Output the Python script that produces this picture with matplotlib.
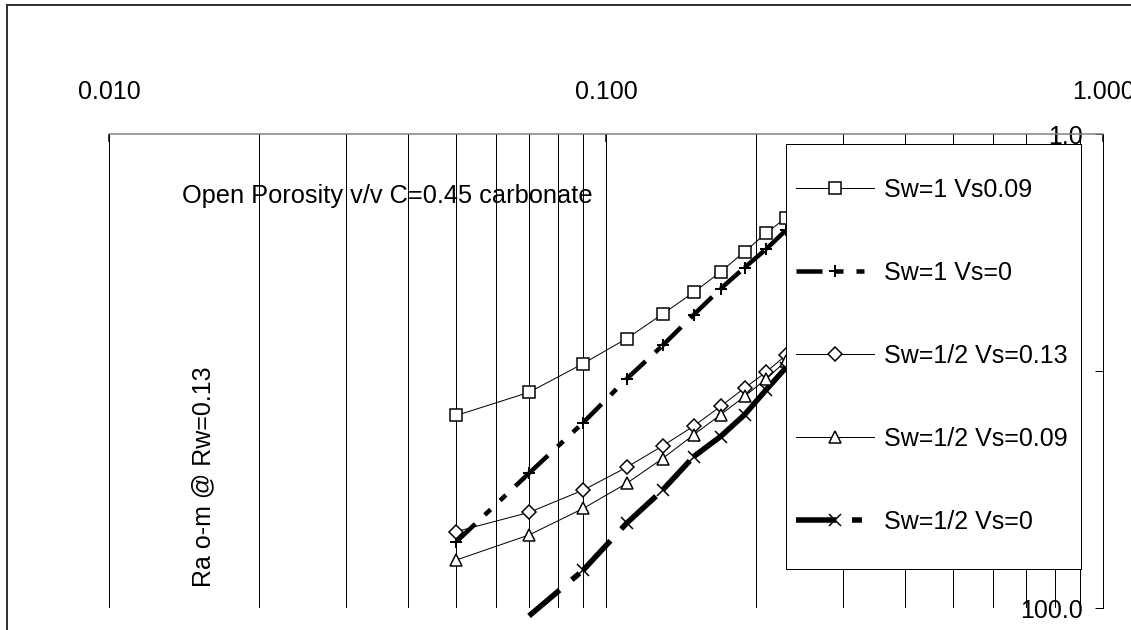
import matplotlib
matplotlib.use("Agg")
import matplotlib.pyplot as plt
from matplotlib.lines import Line2D
from matplotlib.patches import Rectangle
from matplotlib.ticker import FixedLocator, LogLocator, FormatStrFormatter, NullFormatter

plt.rcParams['font.family'] = ['Liberation Sans', 'DejaVu Sans']
plt.rcParams['lines.scale_dashes'] = False

W, H = 1131, 630

porosity = [0.05, 0.07, 0.09, 0.11, 0.13, 0.15, 0.17, 0.19, 0.21, 0.23]
ra_sw1_vs009 = [15.4, 12.3, 9.3, 7.3, 5.75, 4.66, 3.82, 3.14, 2.62, 2.26]
ra_sw1_vs0 = [52.5, 27.0, 16.5, 10.8, 7.8, 5.8, 4.5, 3.66, 3.06, 2.55]
ra_sw05_vs013 = [47.6, 39.5, 31.8, 25.5, 20.7, 17.1, 14.1, 11.8, 10.1, 8.6]
ra_sw05_vs009 = [62.7, 49.2, 38.0, 29.8, 23.4, 18.6, 15.3, 12.8, 10.8, 9.1]
porosity_sw05_vs0 = [0.07, 0.09, 0.11, 0.13, 0.15, 0.17, 0.19, 0.21, 0.23]
ra_sw05_vs0 = [108.0, 69.2, 43.9, 31.8, 23.0, 18.9, 15.3, 12.0, 9.7]

x_ticks = [0.01, 0.1, 1.0]
y_ticks = [1.0, 10.0, 100.0]
labels = ["Sw=1 Vs0.09", "Sw=1 Vs=0", "Sw=1/2 Vs=0.13", "Sw=1/2 Vs=0.09", "Sw=1/2 Vs=0"]

PX = 0.72  # points per pixel at dpi 100
dash_s2 = (26 * PX, 13 * PX, 8 * PX, 13 * PX, 8 * PX, 13 * PX)
dash_s5 = (40 * PX, 16 * PX, 10 * PX, 16 * PX)


def seg_plot(ax, x, y, lw, dashes):
    # excel restarts the dash pattern at every point
    for i in range(len(x) - 1):
        ax.plot(x[i:i + 2], y[i:i + 2], color='black', lw=lw, dashes=dashes,
                dash_capstyle='butt', clip_on=False, zorder=2)


def main():
    fig = plt.figure(figsize=(W / 100, H / 100), dpi=100)
    ax = fig.add_axes([109 / W, 1 - 608 / H, (1103 - 109) / W, (608 - 134) / H])

    ax.set_xscale('log')
    ax.set_yscale('log')
    ax.set_xlim(0.01, 1.0)
    ax.set_ylim(100, 1)

    ms = 12 * PX
    ax.plot(porosity, ra_sw1_vs009, color='black', lw=1 * PX, marker='s', ms=ms,
            mfc='white', mec='black', mew=1.5 * PX, zorder=3)
    seg_plot(ax, porosity, ra_sw1_vs0, 4.5 * PX, dash_s2)
    ax.plot(porosity, ra_sw1_vs0, ls='none', marker='+', ms=ms, mec='black',
            mew=2 * PX, zorder=3)
    ax.plot(porosity, ra_sw05_vs013, color='black', lw=1 * PX, marker='D', ms=9.5 * PX,
            mfc='white', mec='black', mew=1.5 * PX, zorder=3)
    ax.plot(porosity, ra_sw05_vs009, color='black', lw=1 * PX, marker='^', ms=ms,
            mfc='white', mec='black', mew=1.5 * PX, zorder=3)
    seg_plot(ax, porosity_sw05_vs0, ra_sw05_vs0, 5.5 * PX, dash_s5)
    ax.plot(porosity_sw05_vs0, ra_sw05_vs0, ls='none', marker='x', ms=ms, mec='black',
            mew=1.5 * PX, zorder=3)

    # axes
    for s in ['left', 'bottom']:
        ax.spines[s].set_visible(False)
    ax.spines['top'].set_color('#808080')
    ax.spines['top'].set_linewidth(1.5 * PX)
    ax.spines['right'].set_color('black')
    ax.spines['right'].set_linewidth(1 * PX)

    ax.xaxis.set_major_locator(FixedLocator(x_ticks))
    ax.xaxis.set_minor_locator(LogLocator(base=10, subs=range(2, 10)))
    ax.xaxis.set_major_formatter(FormatStrFormatter('%.3f'))
    ax.xaxis.set_minor_formatter(NullFormatter())
    ax.yaxis.set_major_locator(FixedLocator(y_ticks))
    ax.yaxis.set_minor_locator(FixedLocator([]))
    ax.yaxis.set_major_formatter(FormatStrFormatter('%.1f'))

    ax.tick_params(axis='x', which='major', top=True, bottom=False, labeltop=True,
                   labelbottom=False, direction='in', length=8 * PX, width=1.5 * PX,
                   pad=30 * PX, labelsize=18)
    ax.tick_params(axis='x', which='minor', top=False, bottom=False)
    ax.tick_params(axis='y', which='major', right=True, left=False, labelright=True,
                   labelleft=False, direction='in', length=8 * PX, width=1 * PX,
                   pad=-20 * PX, labelsize=18)

    ax.grid(True, axis='x', which='both', color='black', lw=1 * PX)
    ax.grid(True, axis='y', which='major', color='black', lw=1 * PX)
    for t in ax.xaxis.get_major_ticks():
        if abs(t.get_loc() - 0.01) < 1e-9:
            t.gridline.set_visible(False)
    for t in ax.yaxis.get_major_ticks():
        t.label2.set_horizontalalignment('right')
        if abs(t.get_loc() - 10.0) > 1e-9:
            t.gridline.set_visible(False)

    ax.text((182 - 109) / 994, 1 - (203 - 134) / 474, "Open Porosity v/v C=0.45 carbonate",
            transform=ax.transAxes, fontsize=18.3, ha='left', va='baseline')

    ax.set_ylabel("Ra o-m @ Rw=0.13", fontsize=18)
    ax.yaxis.label.set_verticalalignment('center')
    ax.yaxis.set_label_coords((203 - 109) / 994, 1 - (477 - 134) / 474)

    # legend box
    box = Rectangle((786 / W, 1 - 569 / H), (1081 - 786) / W, (569 - 144) / H,
                    transform=fig.transFigure, facecolor='white', edgecolor='black',
                    lw=1 * PX, zorder=4, clip_on=False)
    ax.add_patch(box)

    handles = [
        Line2D([], [], color='black', lw=1 * PX, marker='s', ms=ms, mfc='white', mew=1.5 * PX),
        Line2D([], [], color='black', lw=4.5 * PX, dashes=dash_s2, dash_capstyle='butt',
               marker='+', ms=ms, mew=2 * PX),
        Line2D([], [], color='black', lw=1 * PX, marker='D', ms=9.5 * PX, mfc='white', mew=1.5 * PX),
        Line2D([], [], color='black', lw=1 * PX, marker='^', ms=ms, mfc='white', mew=1.5 * PX),
        Line2D([], [], color='black', lw=5.5 * PX, dashes=dash_s5, dash_capstyle='butt',
               marker='x', ms=ms, mew=1.5 * PX),
    ]
    leg = ax.legend(handles, labels, loc='upper left', bbox_to_anchor=(796 / W, 1 - 178 / H),
                    bbox_transform=fig.transFigure, frameon=False, borderpad=0,
                    borderaxespad=0, handlelength=3.1, handletextpad=0.4,
                    labelspacing=2.36, fontsize=18)
    leg.set_zorder(5)

    # outer chart border
    fig.patches.append(Rectangle((7 / W, -0.1), 2, 1.1 - 5 / H, transform=fig.transFigure,
                                 fill=False, edgecolor='#333333', lw=2 * PX))

    fig.savefig('out.png', dpi=100)


if __name__ == "__main__":
    main()
